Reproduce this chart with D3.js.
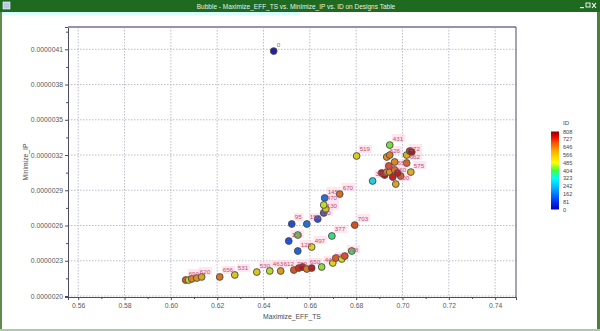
<!DOCTYPE html>
<html>
<head>
<meta charset="utf-8">
<script src="https://cdn.jsdelivr.net/npm/d3@7/dist/d3.min.js"></script>
<style>
body { margin: 0; background: #fff; }
svg { display: block; font-family: "Liberation Sans", Arial, sans-serif; }
</style>
</head>
<body>
<div id="chart"></div>
<script>
// design values
var effTs = [0.6444,
    0.6064, 0.6077, 0.6090, 0.6112, 0.6133, 0.6211, 0.6276, 0.6371, 0.6427, 0.6474,
    0.6531, 0.6552, 0.6569, 0.6587, 0.6608, 0.6651, 0.6699, 0.6712, 0.6738, 0.6751, 0.6781,
    0.6548, 0.6509, 0.6608, 0.6695, 0.6548, 0.6522, 0.6587, 0.6634, 0.6660, 0.6669,
    0.6660, 0.6664, 0.6729, 0.6794,
    0.6802, 0.6871, 0.6910, 0.6923, 0.6932, 0.6945, 0.6958, 0.6966, 0.6971, 0.6945,
    0.6932, 0.6945, 0.6966, 0.7018, 0.7031, 0.7040, 0.7018, 0.7036, 0.6992, 0.6941, 0.6979];
var minIp = [4.085e-6,
    2.136e-6, 2.136e-6, 2.145e-6, 2.153e-6, 2.162e-6, 2.162e-6, 2.179e-6, 2.204e-6, 2.213e-6, 2.213e-6,
    2.221e-6, 2.238e-6, 2.247e-6, 2.230e-6, 2.238e-6, 2.247e-6, 2.281e-6, 2.323e-6, 2.315e-6, 2.340e-6, 2.383e-6,
    2.383e-6, 2.468e-6, 2.417e-6, 2.511e-6, 2.519e-6, 2.613e-6, 2.613e-6, 2.655e-6, 2.707e-6, 2.741e-6,
    2.775e-6, 2.834e-6, 2.868e-6, 2.604e-6,
    3.192e-6, 2.979e-6, 3.047e-6, 3.030e-6, 3.055e-6, 3.055e-6, 3.013e-6, 3.073e-6, 2.953e-6, 3.285e-6,
    3.183e-6, 3.200e-6, 3.141e-6, 3.200e-6, 3.234e-6, 3.226e-6, 3.132e-6, 3.055e-6, 3.021e-6, 3.107e-6, 3.047e-6];
var ids = [0,
    690, 470, 640, 620, 595, 656, 531, 530, 463, 612,
    700, 745, 790, 650, 772, 440, 500, 688, 478, 698, 389,
    128, 105, 497, 377, 400, 95, 150, 110, 130, 540,
    470, 145, 670, 703,
    519, 300, 780, 795, 640, 612, 760, 655, 600, 431,
    626, 648, 633, 572, 730, 792, 662, 575, 684, 700, 770];

var xTicks = [0.56, 0.58, 0.60, 0.62, 0.64, 0.66, 0.68, 0.70, 0.72, 0.74];
var xMinor = [0.57, 0.59, 0.61, 0.63, 0.65, 0.67, 0.69, 0.71, 0.73];
var yTicks = [2.0e-6, 2.3e-6, 2.6e-6, 2.9e-6, 3.2e-6, 3.5e-6, 3.8e-6, 4.1e-6];
var yMinor = [2.15e-6, 2.45e-6, 2.75e-6, 3.05e-6, 3.35e-6, 3.65e-6, 3.95e-6, 4.25e-6];
var legendTicks = [0, 81, 162, 242, 323, 404, 485, 566, 646, 727, 808];
var colorStops = [0, 100, 220, 323, 404, 485, 600, 690, 760, 808];
var colorRange = ["#0000b8", "#0040ff", "#00b0ff", "#00ffff", "#40ff40", "#ffff00", "#ffb000", "#ff5000", "#e00000", "#900000"];

var W = 600, H = 331;
var plot = { left: 68, right: 516, top: 27, bottom: 297 };

var svg = d3.select("#chart").append("svg")
    .attr("width", W)
    .attr("height", H);

// window chrome
svg.append("rect").attr("x", 0).attr("y", 0).attr("width", W).attr("height", 12).attr("fill", "#1e6a20");
svg.append("rect").attr("x", 2).attr("y", 12).attr("width", 298).attr("height", 3).attr("fill", "#d8ffff");
svg.append("rect").attr("x", 0).attr("y", 12).attr("width", 2).attr("height", H - 12).attr("fill", "#5f8c4c");
svg.append("rect").attr("x", W - 3).attr("y", 12).attr("width", 3).attr("height", H - 12).attr("fill", "#4f7f3f");
svg.append("rect").attr("x", 0).attr("y", H - 2).attr("width", W).attr("height", 2).attr("fill", "#a8cca8");
svg.append("rect").attr("x", 3).attr("y", 2).attr("width", 7).attr("height", 7).attr("fill", "#b8c8e8").attr("stroke", "#fff").attr("stroke-width", 0.6);
svg.append("text")
    .attr("x", 296).attr("y", 8.5)
    .attr("text-anchor", "middle")
    .attr("font-size", 6.5)
    .attr("fill", "#e4f2e4")
    .text("Bubble - Maximize_EFF_TS vs. Minimize_IP vs. ID on Designs Table");
// min / max / close buttons
svg.append("rect").attr("x", 580).attr("y", 7).attr("width", 4).attr("height", 1.2).attr("fill", "#fff");
svg.append("rect").attr("x", 586).attr("y", 3).attr("width", 4).attr("height", 4).attr("fill", "none").attr("stroke", "#fff").attr("stroke-width", 0.9);
svg.append("path").attr("d", "M592,3 L596,8 M596,3 L592,8").attr("stroke", "#fff").attr("stroke-width", 1.1);

// scales
var x = d3.scaleLinear().domain([0.5556, 0.7490]).range([plot.left, plot.right]);
var y = d3.scaleLinear().domain([1.9915e-6, 4.2898e-6]).range([plot.bottom, plot.top]);
var color = d3.scaleLinear().domain(colorStops).range(colorRange);
var fillOf = function(id) { return d3.interpolateRgb(color(id), "#7a7a7a")(0.28); };

// grid
var g = svg.append("g");
g.selectAll(".gx").data(xTicks).enter().append("line")
    .attr("x1", function(d) { return x(d); }).attr("x2", function(d) { return x(d); })
    .attr("y1", plot.top).attr("y2", plot.bottom)
    .attr("stroke", "#bcbcce").attr("stroke-dasharray", "1.5,1.5");
g.selectAll(".gy").data(yTicks).enter().append("line")
    .attr("y1", function(d) { return y(d); }).attr("y2", function(d) { return y(d); })
    .attr("x1", plot.left).attr("x2", plot.right)
    .attr("stroke", "#bcbcce").attr("stroke-dasharray", "1.5,1.5");

// axes
var xAxis = svg.append("g")
    .attr("transform", "translate(0," + plot.bottom + ")")
    .call(d3.axisBottom(x).tickValues(xTicks).tickSize(3).tickPadding(3).tickFormat(d3.format(".2f")));
var xAxisMinor = svg.append("g")
    .attr("transform", "translate(0," + plot.bottom + ")")
    .call(d3.axisBottom(x).tickValues(xMinor).tickSize(2).tickFormat(""));
var yAxis = svg.append("g")
    .attr("transform", "translate(" + plot.left + ",0)")
    .call(d3.axisLeft(y).tickValues(yTicks).tickSize(3).tickPadding(2).tickFormat(d3.format(".7f")));
var yAxisMinor = svg.append("g")
    .attr("transform", "translate(" + plot.left + ",0)")
    .call(d3.axisLeft(y).tickValues(yMinor).tickSize(2).tickFormat(""));

[xAxis, xAxisMinor, yAxis, yAxisMinor].forEach(function(a) {
    a.select(".domain").attr("stroke", "#4c4c66");
    a.selectAll(".tick line").attr("stroke", "#4c4c66");
    a.selectAll(".tick text").attr("fill", "#5a5a5a").attr("font-size", 6.8).attr("font-family", "Liberation Sans, Arial, sans-serif");
});

// frame top / right
svg.append("line").attr("x1", plot.left).attr("x2", plot.right).attr("y1", plot.top).attr("y2", plot.top)
    .attr("stroke", "#9a92ac").attr("stroke-width", 2);
svg.append("line").attr("x1", plot.right).attr("x2", plot.right).attr("y1", plot.top).attr("y2", plot.bottom)
    .attr("stroke", "#4c4c66");

// axis titles
svg.append("text")
    .attr("x", (plot.left + plot.right) / 2).attr("y", 319)
    .attr("text-anchor", "middle").attr("font-size", 6.8).attr("fill", "#4a4a4a")
    .text("Maximize_EFF_TS");
svg.append("text")
    .attr("transform", "translate(28," + (plot.top + plot.bottom) / 2 + ") rotate(-90)")
    .attr("text-anchor", "middle").attr("font-size", 6.8).attr("fill", "#4a4a4a")
    .text("Minimize_IP");

// bubbles
var pts = ids.map(function(id, i) { return { id: id, x: effTs[i], y: minIp[i] }; });

// keep a label only where it does not sit on top of one already placed
var placed = [];
pts.forEach(function(d) {
    var b = { x: x(d.x) + 3, y: y(d.y) - 10, w: String(d.id).length * 3.5, h: 6 };
    d.show = placed.every(function(p) {
        var ox = Math.min(b.x + b.w, p.x + p.w) - Math.max(b.x, p.x);
        var oy = Math.min(b.y + b.h, p.y + p.h) - Math.max(b.y, p.y);
        return ox <= 0 || oy <= 0;
    });
    if (d.show) placed.push(b);
});
var shown = pts.filter(function(d) { return d.show; });

var marks = svg.append("g");
marks.selectAll(".hl").data(shown.filter(function(d) { return d.id > 0; })).enter().append("rect")
    .attr("x", function(d) { return x(d.x) + 2; })
    .attr("y", function(d) { return y(d.y) - 11; })
    .attr("width", function(d) { return String(d.id).length * 3.8 + 2; })
    .attr("height", 8)
    .attr("fill", "#ffd6e6").attr("opacity", 0.6);
marks.selectAll("circle").data(pts).enter().append("circle")
    .attr("cx", function(d) { return x(d.x); })
    .attr("cy", function(d) { return y(d.y); })
    .attr("r", 3.4)
    .attr("fill", function(d) { return fillOf(d.id); })
    .attr("stroke", "#4a4a4a").attr("stroke-width", 0.9);
marks.selectAll(".lbl").data(shown).enter().append("text")
    .attr("x", function(d) { return x(d.x) + 3; })
    .attr("y", function(d) { return y(d.y) - 4.5; })
    .attr("font-size", 6.2)
    .attr("fill", function(d) { return d.id === 0 ? "#777" : "#c0506e"; })
    .text(function(d) { return d.id; });

// legend
var lg = { x: 551, w: 8, top: 131.5, bottom: 209.5 };
var ly = d3.scaleLinear().domain([0, 808]).range([lg.bottom, lg.top]);
var grad = svg.append("defs").append("linearGradient")
    .attr("id", "idgrad").attr("x1", 0).attr("x2", 0).attr("y1", 1).attr("y2", 0);
grad.selectAll("stop").data(colorStops).enter().append("stop")
    .attr("offset", function(d) { return d / 808; })
    .attr("stop-color", function(d) { return color(d); });
svg.append("rect")
    .attr("x", lg.x).attr("y", lg.top).attr("width", lg.w).attr("height", lg.bottom - lg.top)
    .attr("fill", "url(#idgrad)");
svg.append("text").attr("x", 563).attr("y", 125).attr("font-size", 6).attr("fill", "#444").text("ID");
svg.selectAll(".lt").data(legendTicks).enter().append("text")
    .attr("x", 563)
    .attr("y", function(d) { return ly(d) + 2; })
    .attr("font-size", 5.6).attr("fill", "#444")
    .text(function(d) { return d; });
</script>
</body>
</html>
